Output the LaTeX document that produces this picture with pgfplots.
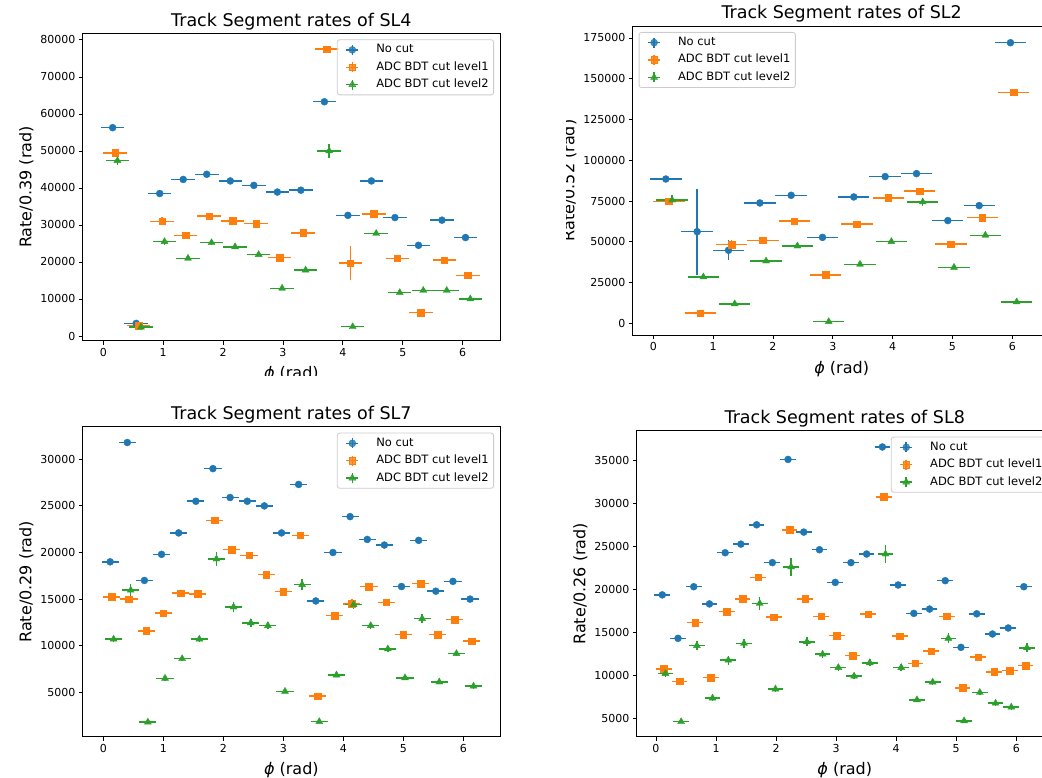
\documentclass[border=0pt]{standalone}
\usepackage{fontspec}
\setmainfont{DejaVu Sans}
\usepackage{pgfplots}
\usepackage{pgfplotstable}
\pgfplotsset{compat=1.18}
\definecolor{tabblue}{HTML}{1F77B4}
\definecolor{taborange}{HTML}{FF7F0E}
\definecolor{tabgreen}{HTML}{2CA02C}

% ---------------- SL4 ----------------
\pgfplotstableread{
x y ey
0.156 56300 400
0.549 3400 150
0.942 38500 350
1.334 42300 350
1.727 43700 350
2.120 41900 350
2.513 40700 350
2.905 38900 350
3.298 39400 350
3.691 63300 400
4.083 32600 300
4.476 41900 350
4.869 32000 300
5.262 24500 300
5.654 31300 300
6.047 26600 300
}\slfourA
\pgfplotstableread{
x y ey
0.196 49500 600
0.589 2800 150
0.982 31000 1100
1.374 27200 400
1.767 32400 500
2.160 31100 400
2.553 30400 400
2.945 21200 350
3.338 27900 400
3.731 77500 500
4.123 19700 4600
4.516 33000 500
4.909 21000 350
5.302 6300 250
5.694 20500 350
6.087 16400 300
}\slfourB
\pgfplotstableread{
x y ey
0.236 47400 1200
0.629 2400 150
1.022 25500 800
1.414 21000 400
1.807 25200 500
2.200 24100 400
2.593 22000 400
2.985 12900 350
3.378 17800 400
3.771 50000 1900
4.163 2500 150
4.556 27700 500
4.949 11700 350
5.342 12300 300
5.734 12300 300
6.127 10000 300
}\slfourC

% ---------------- SL2 ----------------
\pgfplotstableread{
x y ey
0.210 88500 1000
0.733 56200 26300
1.257 44800 6000
1.781 73800 1000
2.304 78500 1000
2.828 52700 1000
3.351 77500 1000
3.875 90000 1000
4.399 91800 1000
4.922 63000 1000
5.446 72200 1000
5.969 172100 1200
}\sltwoA
\pgfplotstableread{
x y ey
0.262 74800 1000
0.785 6300 500
1.309 48300 2500
1.833 50900 1200
2.356 62600 1000
2.880 29700 1000
3.403 60900 1000
3.927 76900 1000
4.451 81000 1000
4.974 48500 1000
5.498 64800 1000
6.021 141700 1200
}\sltwoB
\pgfplotstableread{
x y ey
0.314 75600 3000
0.837 28400 1000
1.361 11900 800
1.885 38200 1000
2.408 47400 1000
2.932 1000 500
3.455 36200 1000
3.979 50100 1000
4.503 74400 2500
5.026 34300 1000
5.550 54000 1000
6.073 13100 700
}\sltwoC

% ---------------- SL7 ----------------
\pgfplotstableread{
x y ey
0.114 19000 200
0.400 31800 250
0.685 17000 200
0.971 19800 200
1.256 22100 200
1.542 25500 200
1.827 29000 250
2.113 25900 200
2.399 25500 200
2.684 25000 200
2.970 22100 200
3.255 27300 250
3.541 14800 200
3.827 20000 200
4.112 23850 200
4.398 21400 200
4.683 20800 200
4.969 16350 200
5.255 21300 200
5.540 15850 200
5.826 16900 200
6.111 15000 200
}\slsevenA
\pgfplotstableread{
x y ey
0.143 15250 250
0.428 15000 250
0.714 11600 200
1.000 13500 250
1.285 15650 250
1.571 15550 250
1.856 23450 300
2.142 20300 300
2.428 19700 300
2.713 17650 300
2.999 15800 250
3.284 21850 300
3.570 4600 150
3.856 13250 250
4.141 14500 500
4.427 16350 250
4.712 14650 250
4.998 11200 250
5.284 16650 250
5.569 11200 250
5.855 12800 250
6.140 10500 250
}\slsevenB
\pgfplotstableread{
x y ey
0.172 10700 250
0.457 15950 700
0.743 1800 150
1.029 6500 250
1.314 8600 250
1.600 10700 250
1.885 19300 800
2.171 14150 500
2.457 12450 400
2.742 12150 350
3.028 5100 200
3.313 16550 600
3.599 1850 150
3.885 6850 250
4.170 14400 500
4.456 12150 350
4.741 9650 300
5.027 6550 250
5.313 12900 500
5.598 6100 250
5.884 9150 300
6.169 5650 250
}\slsevenC

% ---------------- SL8 ----------------
\pgfplotstableread{
x y ey
0.105 19350 200
0.367 14300 200
0.629 20300 200
0.890 18300 200
1.152 24250 200
1.414 25250 200
1.676 27500 250
1.938 23100 200
2.199 35100 250
2.461 26650 200
2.723 24600 200
2.985 20800 200
3.247 23100 200
3.508 24100 200
3.770 36550 250
4.032 20500 200
4.294 17200 200
4.556 17700 200
4.817 21000 200
5.079 13250 200
5.341 17150 200
5.603 14800 200
5.865 15500 200
6.126 20300 200
}\sleightA
\pgfplotstableread{
x y ey
0.131 10750 250
0.393 9300 200
0.655 16150 250
0.916 9750 200
1.178 17400 250
1.440 18900 250
1.702 21400 300
1.964 16750 250
2.225 26900 300
2.487 18900 250
2.749 16850 250
3.011 14600 250
3.273 12300 250
3.534 17100 250
3.796 30750 300
4.058 14550 250
4.320 11400 250
4.582 12800 250
4.843 16850 250
5.105 8550 200
5.367 12100 250
5.629 10400 250
5.891 10550 250
6.152 11150 250
}\sleightB
\pgfplotstableread{
x y ey
0.157 10200 400
0.419 4600 200
0.681 13450 500
0.942 7350 300
1.204 11750 500
1.466 13700 500
1.728 18350 800
1.990 8400 300
2.251 22600 1000
2.513 13900 500
2.775 12450 400
3.037 10900 400
3.299 9900 350
3.560 11450 400
3.822 24100 1100
4.084 10900 400
4.346 7150 300
4.608 9200 350
4.869 14300 600
5.131 4700 250
5.393 8000 300
5.655 6750 300
5.917 6300 300
6.178 13200 500
}\sleightC

\pgfplotsset{
  panel/.style={
    scale only axis,
    anchor=south west,
    axis line style={line width=0.9pt},
    tick align=outside,
    tick pos=left,
    major tick length=3.9pt,
    tick style={line width=0.9pt, black},
    ticklabel style={font=\fontsize{11}{13}\selectfont},
    /pgf/number format/fixed,
    /pgf/number format/precision=0,
    /pgf/number format/assume math mode=true,
    /pgf/number format/1000 sep={},
    scaled y ticks=false,
    xtick={0,1,2,3,4,5,6},
    title style={font=\fontsize{17.5}{20}\selectfont, at={(axis description cs:0.5,1)}, anchor=base, yshift=1pt},
    label style={font=\fontsize{16}{19}\selectfont},
    xlabel style={yshift=-3.5pt},
    xlabel={{\itshape ϕ} (rad)},
    legend cell align=left,
    legend style={font=\fontsize{11.5}{13}\selectfont, draw=black!20, line width=0.8pt,
      rounded corners=2.5pt, fill=white, fill opacity=0.8, text opacity=1,
      inner xsep=3pt, inner ysep=1.5pt, row sep=0pt,
      nodes={text height=8.5pt, text depth=2.5pt, inner ysep=3.2pt}},
  },
  ebar/.style={
    only marks, color=#1,
    mark options={fill=#1, draw=#1, line width=0.4pt},
    error bars/.cd, x dir=both, x fixed=\halfbw, y dir=both, y explicit,
    error mark=none, error bar style={color=#1, line width=1.5pt},
    /pgfplots/.cd,
    legend image code/.code={
      \path[draw=none, fill=none] (0pt,-6pt) rectangle (34pt,6pt);
      \draw[line width=1.5pt, color=#1, sharp corners] (6pt,0pt) -- (18pt,0pt) (12pt,-5pt) -- (12pt,5pt);
      \draw[##1, mark repeat=1] plot coordinates {(12pt,0pt)};
    },
  },
  sA/.style={ebar=tabblue, mark=*, mark size=3.5pt},
  sB/.style={ebar=taborange, mark=square*, mark size=3.3pt},
  sC/.style={ebar=tabgreen, mark=triangle*, mark size=4pt},
}

\begin{document}
\begin{tikzpicture}[x=1pt,y=1pt]
% ---- top left: SL4
\begin{scope}
\clip (0,401) rectangle (566,777);
\def\halfbw{0.1963}
\begin{axis}[panel, at={(82.7pt,436.3pt)}, width=417.3pt, height=307.4pt,
  xmin=-0.344, xmax=6.623, ymin=-1270, ymax=81800,
  ytick={0,10000,20000,30000,40000,50000,60000,70000,80000},
  title={Track Segment rates of SL4}, ylabel={Rate/0.39 (rad)},
  legend style={at={(axis description cs:1,1)}, anchor=north east, xshift=-6pt, yshift=-6pt}]
\addplot[sA] table[x=x, y=y, y error=ey]{\slfourA};
\addplot[sB] table[x=x, y=y, y error=ey]{\slfourB};
\addplot[sC] table[x=x, y=y, y error=ey]{\slfourC};
\legend{No cut, ADC BDT cut level1, ADC BDT cut level2}
\end{axis}
\end{scope}
% ---- top right: SL2
\begin{scope}
\clip (566,385) rectangle (1042,777);
\def\halfbw{0.2618}
\begin{axis}[panel, at={(632.7pt,442pt)}, width=417.9pt, height=309pt,
  xmin=-0.344, xmax=6.64, ymin=-7180, ymax=182360,
  ytick={0,25000,50000,75000,100000,125000,150000,175000},
  title={Track Segment rates of SL2}, ylabel={Rate/0.52 (rad)},
  legend style={at={(axis description cs:0,1)}, anchor=north west, xshift=6pt, yshift=-6pt}]
\addplot[sA] table[x=x, y=y, y error=ey]{\sltwoA};
\addplot[sB] table[x=x, y=y, y error=ey]{\sltwoB};
\addplot[sC] table[x=x, y=y, y error=ey]{\sltwoC};
\legend{No cut, ADC BDT cut level1, ADC BDT cut level2}
\end{axis}
\end{scope}
% ---- bottom left: SL7
\begin{scope}
\clip (0,0) rectangle (566,401);
\def\halfbw{0.1428}
\begin{axis}[panel, at={(82.7pt,40.3pt)}, width=417.3pt, height=310pt,
  xmin=-0.343, xmax=6.61, ymin=236, ymax=33498,
  ytick={5000,10000,15000,20000,25000,30000},
  title={Track Segment rates of SL7}, ylabel={Rate/0.29 (rad)},
  legend style={at={(axis description cs:1,1)}, anchor=north east, xshift=-6pt, yshift=-6pt}]
\addplot[sA] table[x=x, y=y, y error=ey]{\slsevenA};
\addplot[sB] table[x=x, y=y, y error=ey]{\slsevenB};
\addplot[sC] table[x=x, y=y, y error=ey]{\slsevenC};
\legend{No cut, ADC BDT cut level1, ADC BDT cut level2}
\end{axis}
\end{scope}
% ---- bottom right: SL8
\begin{scope}
\clip (566,0) rectangle (1042,385);
\def\halfbw{0.1309}
\begin{axis}[panel, at={(636.7pt,40.3pt)}, width=416.2pt, height=306pt,
  xmin=-0.321, xmax=6.61, ymin=2860, ymax=38442,
  ytick={5000,10000,15000,20000,25000,30000,35000},
  title={Track Segment rates of SL8}, ylabel={Rate/0.26 (rad)},
  legend style={at={(axis description cs:1,1)}, anchor=north east, xshift=-5pt, yshift=-6pt}]
\addplot[sA] table[x=x, y=y, y error=ey]{\sleightA};
\addplot[sB] table[x=x, y=y, y error=ey]{\sleightB};
\addplot[sC] table[x=x, y=y, y error=ey]{\sleightC};
\legend{No cut, ADC BDT cut level1, ADC BDT cut level2}
\end{axis}
\end{scope}
\pgfresetboundingbox
\path[use as bounding box] (0pt,0pt) rectangle (1042pt,777pt);
\end{tikzpicture}
\end{document}
